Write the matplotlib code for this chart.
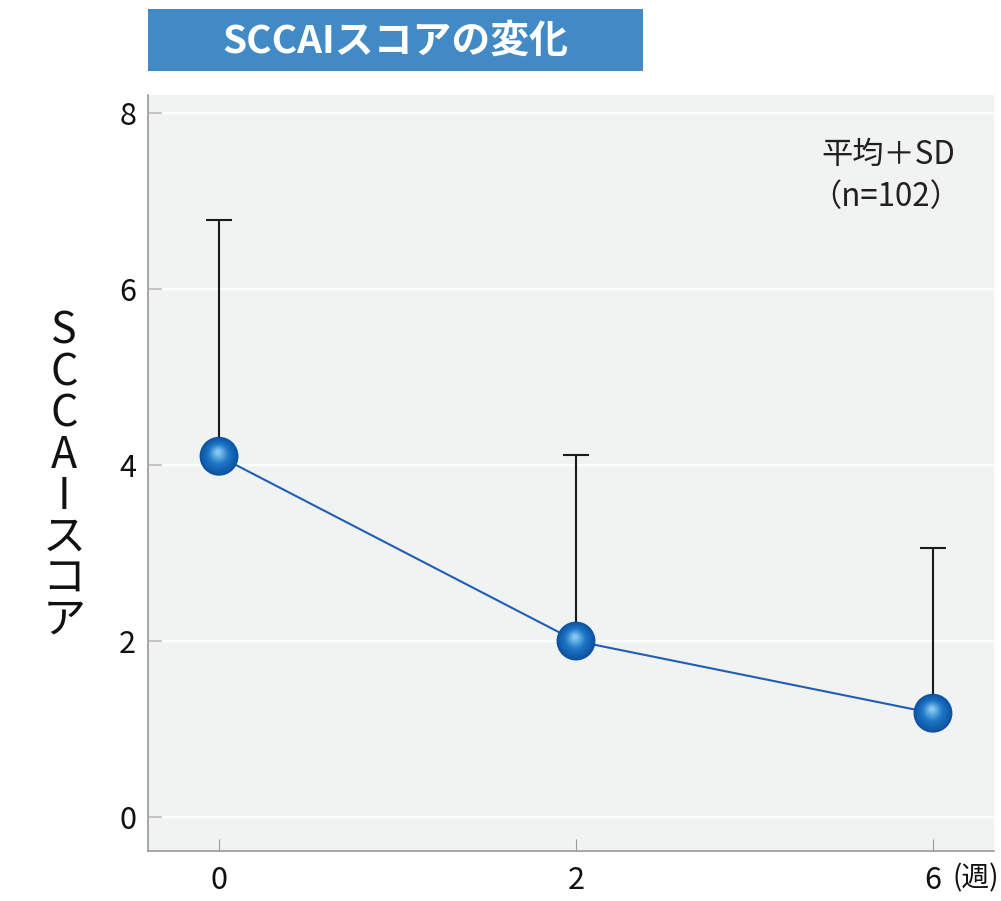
import numpy as np
import matplotlib.pyplot as plt
from matplotlib.patches import Rectangle
from matplotlib.colors import to_rgb
import matplotlib.transforms as mtransforms

plt.rcParams['font.family'] = ['Noto Sans CJK JP', 'DejaVu Sans']

weeks = ["0", "2", "6"]
means = np.array([4.10, 2.00, 1.18])
upper = np.array([6.78, 4.11, 3.06])   # mean + SD
yticks = [0, 2, 4, 6, 8]

fig = plt.figure(figsize=(10.01, 9.01), dpi=100)
ax = fig.add_axes([148/1001, 1 - 851/901, 846/1001, 756/901])
ax.set_facecolor('#f1f2f2')

x = np.arange(len(weeks))

# white horizontal grid
ax.set_axisbelow(True)
ax.yaxis.grid(True, color='white', lw=1.6)
ax.xaxis.grid(False)

# connecting line
ax.plot(x, means, color='#1f5fb3', lw=1.5, zorder=2)

# upper SD bars
ax.errorbar(x, means, yerr=[np.zeros_like(means), upper - means], fmt='none',
            ecolor='#1a1a1a', elinewidth=1.5, capsize=9.7, capthick=1.5, zorder=3)

# shaded "sphere" markers
edge = np.array(to_rgb('#0d52a0'))
mid = np.array(to_rgb('#1c76c6'))
light = np.array(to_rgb('#86c6f0'))
n = 14
for i in range(n):
    t = i / (n - 1)
    if t < 0.5:
        c = edge + (mid - edge) * (t / 0.5)
    else:
        c = mid + (light - mid) * ((t - 0.5) / 0.5)
    size = 28 * (1 - 0.88 * t)
    off = mtransforms.ScaledTranslation(-1.0/100 * t, 4.0/100 * t, fig.dpi_scale_trans)
    ax.scatter(x, means, s=size**2, color=c, edgecolors='none',
               transform=ax.transData + off, zorder=5 + i)

ax.set_xlim(-0.199, 2.171)
ax.set_ylim(-0.386, 8.205)
ax.set_yticks(yticks)
ax.set_xticks(x)
ax.set_xticklabels(weeks)

for s in ['top', 'right']:
    ax.spines[s].set_visible(False)
for s in ['left', 'bottom']:
    ax.spines[s].set_color('#9a9a9a')
    ax.spines[s].set_linewidth(1.2)

ax.tick_params(axis='y', direction='in', length=10, width=1.5, color='#c4c4c4',
               labelsize=22, pad=8.5, labelcolor='#111111')
ax.tick_params(axis='x', direction='in', length=9, width=0.8, color='#9a9a9a',
               labelsize=22, pad=10, labelcolor='#111111')

# unit label next to the last tick
fig.text(999/1001, 1 - 878/901, '(週)', fontsize=20, ha='right', va='center', color='#111111')

# note in upper right
fig.text(821/1001, 1 - 155/901, '平均＋SD', fontsize=22.5, ha='left', va='center', color='#231f20')
fig.text(810/1001, 1 - 197/901, '（n=102）', fontsize=22.5, ha='left', va='center', color='#231f20')

# stacked vertical y label
ylabel_chars = list("SCCAIスコア")
for k, ch in enumerate(ylabel_chars):
    fig.text(64/1001, 1 - (332 + 41.2 * k)/901, ch, fontsize=31,
             ha='center', va='center', color='#111111')

# title banner
fig.patches.append(Rectangle((148/1001, 1 - 71/901), 495/1001, 62/901,
                             transform=fig.transFigure, facecolor='#418ac6',
                             edgecolor='none'))
fig.text(395/1001, 1 - 41/901, 'SCCAIスコアの変化', fontsize=28, fontweight='bold',
         color='white', ha='center', va='center')

plt.savefig('out.png', dpi=100)
